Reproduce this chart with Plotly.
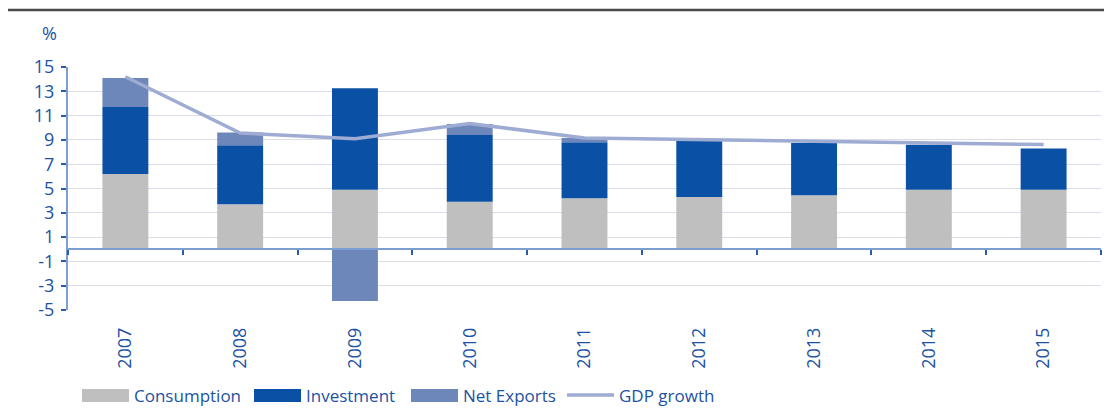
import plotly.graph_objects as go

years = ["2007", "2008", "2009", "2010", "2011", "2012", "2013", "2014", "2015"]
consumption = [6.2, 3.7, 4.9, 3.9, 4.2, 4.3, 4.45, 4.9, 4.9]
investment = [5.5, 4.85, 8.35, 5.5, 4.6, 4.6, 4.3, 3.7, 3.4]
net_exports = [2.4, 1.05, -4.25, 0.9, 0.35, 0.0, 0.0, 0.0, 0.0]
gdp_growth = [14.2, 9.57, 9.1, 10.35, 9.15, 9.03, 8.9, 8.78, 8.62]
y_ticks = [-5, -3, -1, 1, 3, 5, 7, 9, 11, 13, 15]
y_tick_text = ["-5", "-3", "-1", "1", "3", "5", "7", "9", "11", "13", "15"]

C_CONS = "#bfbfbf"
C_INV = "#0a50a4"
C_NX = "#6d87bb"
C_GDP = "#9eabd2"
C_TEXT = "#1c52a3"
FONT = "Open Sans"

YMIN, YMAX = -5, 15

# page body has an 8px margin (scrollbars are hidden, overflow is fine)
W, H = 1104, 400
PLOT_L, PLOT_T, PLOT_W, PLOT_H = 60, 59, 1033, 243

fig = go.Figure()
fig.add_trace(go.Bar(x=years, y=consumption, name="Consumption", marker_color=C_CONS,
                     marker_line_width=0, showlegend=False))
fig.add_trace(go.Bar(x=years, y=investment, name="Investment", marker_color=C_INV,
                     marker_line_width=0, showlegend=False))
fig.add_trace(go.Bar(x=years, y=net_exports, name="Net Exports", marker_color=C_NX,
                     marker_line_width=0, showlegend=False))
fig.add_trace(go.Scatter(x=years, y=gdp_growth, name="GDP growth", mode="lines",
                         line=dict(color=C_GDP, width=3.5), showlegend=False))
# invisible trace to host the zero-level axis with boundary ticks
fig.add_trace(go.Scatter(x=years, y=[None] * len(years), xaxis="x2", mode="lines",
                         showlegend=False, hoverinfo="skip"))

fig.update_layout(
    width=W, height=H,
    margin=dict(l=PLOT_L, r=W - PLOT_L - PLOT_W, t=PLOT_T, b=H - PLOT_T - PLOT_H),
    paper_bgcolor="white", plot_bgcolor="white",
    barmode="relative", bargap=0.6,
    font=dict(family=FONT, color=C_TEXT, size=16),
    xaxis=dict(type="category", categoryarray=years, range=[-0.5, 8.5],
               showline=False, ticks="", tickangle=-90, showgrid=False,
               ticklabelstandoff=13,
               tickfont=dict(size=18, color=C_TEXT, family=FONT)),
    xaxis2=dict(type="category", categoryarray=years, range=[-0.5, 8.5],
                overlaying="x", anchor="free",
                position=(0 - YMIN) / (YMAX - YMIN), side="bottom",
                showline=True, linecolor="#7b9fd2", linewidth=2,
                ticks="outside", tickson="boundaries", ticklen=5, tickwidth=1.5,
                tickcolor="#2a5ca8", showticklabels=False, showgrid=False),
    yaxis=dict(range=[YMIN, YMAX], tickvals=y_ticks, ticktext=y_tick_text, showgrid=True,
               gridcolor="#dcdce8", gridwidth=1.2, zeroline=False,
               showline=True, linecolor="#7b9fd2", linewidth=2,
               ticks="outside", ticklen=5, tickwidth=1.5, tickcolor="#2a5ca8",
               ticklabelstandoff=3,
               tickfont=dict(size=18, color=C_TEXT, family=FONT)),
)

# helpers: reference-window pixels -> paper fractions
def px_x(px):
    return (px - 8 - PLOT_L) / PLOT_W

def px_y(py):
    return (PLOT_T + PLOT_H - (py - 8)) / PLOT_H

# top rule
fig.add_shape(type="line", xref="paper", yref="paper",
              x0=px_x(6), x1=px_x(1112), y0=px_y(10), y1=px_y(10),
              line=dict(color="#4a4a4a", width=2.5))

# unit label
fig.add_annotation(text="%", xref="paper", yref="paper", x=px_x(49),
                   y=px_y(33), showarrow=False, xanchor="center",
                   yanchor="middle", font=dict(size=18, color=C_TEXT, family=FONT))

legend_items = [
    ("Consumption", C_CONS, "box", 82),
    ("Investment", C_INV, "box", 254),
    ("Net Exports", C_NX, "box", 411),
    ("GDP growth", C_GDP, "line", 567),
]
for label, color, kind, x0 in legend_items:
    if kind == "box":
        fig.add_shape(type="rect", xref="paper", yref="paper",
                      x0=px_x(x0), x1=px_x(x0 + 47), y0=px_y(402), y1=px_y(389),
                      fillcolor=color, line=dict(width=0))
    else:
        fig.add_shape(type="line", xref="paper", yref="paper",
                      x0=px_x(x0), x1=px_x(x0 + 47), y0=px_y(395), y1=px_y(395),
                      line=dict(color=color, width=3.5))
    fig.add_annotation(text=label, xref="paper", yref="paper", x=px_x(x0 + 50),
                       y=px_y(395), showarrow=False, xanchor="left", yanchor="middle",
                       font=dict(size=17, color=C_TEXT, family=FONT))

fig.write_html("out.html")
